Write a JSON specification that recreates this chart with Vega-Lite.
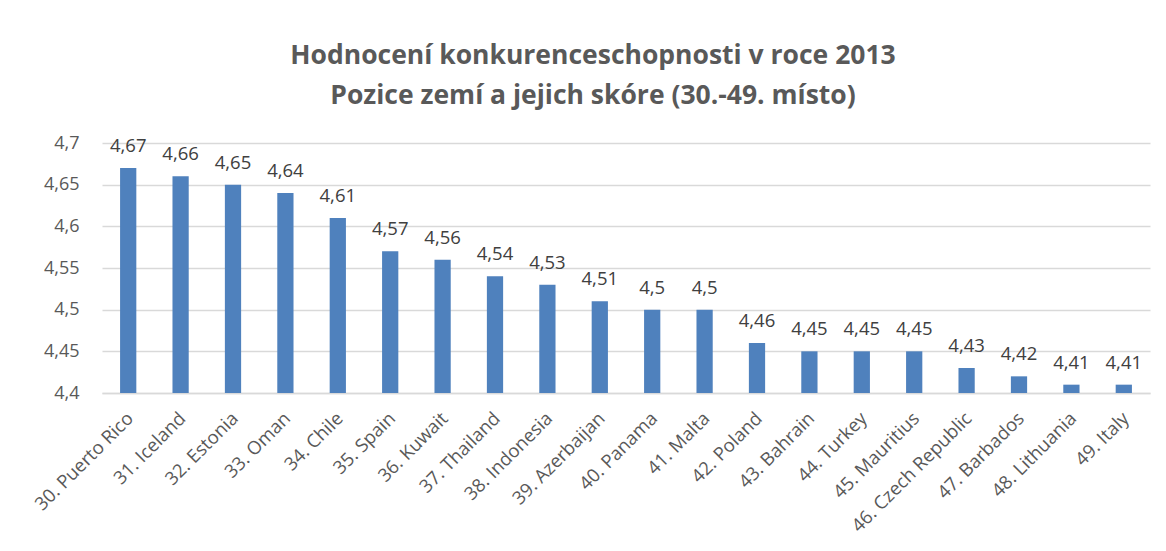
{
  "$schema": "https://vega.github.io/schema/vega-lite/v6.json",
  "width": 1048,
  "height": 250,
  "autosize": {"type": "none"},
  "padding": {"left": 102, "top": 143, "right": 16, "bottom": 158},
  "background": "white",
  "config": {
    "locale": {"number": {"decimal": ",", "thousands": " ", "grouping": [3], "currency": ["", " Kč"]}},
    "font": "Open Sans",
    "view": {"stroke": null}
  },
  "title": {
    "text": ["Hodnocení konkurenceschopnosti v roce 2013", "Pozice zemí a jejich skóre (30.-49. místo)"],
    "font": "Open Sans",
    "fontSize": 26.5,
    "fontWeight": "bold",
    "color": "#595959",
    "lineHeight": 40,
    "anchor": "middle",
    "dx": -33,
    "offset": 25
  },
  "data": {
    "values": [
      {"country": "30. Puerto Rico", "score": 4.67},
      {"country": "31. Iceland", "score": 4.66},
      {"country": "32. Estonia", "score": 4.65},
      {"country": "33. Oman", "score": 4.64},
      {"country": "34. Chile", "score": 4.61},
      {"country": "35. Spain", "score": 4.57},
      {"country": "36. Kuwait", "score": 4.56},
      {"country": "37. Thailand", "score": 4.54},
      {"country": "38. Indonesia", "score": 4.53},
      {"country": "39. Azerbaijan", "score": 4.51},
      {"country": "40. Panama", "score": 4.5},
      {"country": "41. Malta", "score": 4.5},
      {"country": "42. Poland", "score": 4.46},
      {"country": "43. Bahrain", "score": 4.45},
      {"country": "44. Turkey", "score": 4.45},
      {"country": "45. Mauritius", "score": 4.45},
      {"country": "46. Czech Republic", "score": 4.43},
      {"country": "47. Barbados", "score": 4.42},
      {"country": "48. Lithuania", "score": 4.41},
      {"country": "49. Italy", "score": 4.41}
    ]
  },
  "encoding": {
    "x": {
      "field": "country",
      "type": "nominal",
      "sort": null,
      "scale": {"paddingInner": 0.69, "paddingOuter": 0.345},
      "axis": {
        "title": null,
        "labelAngle": -45,
        "labelAlign": "right",
        "labelBaseline": "middle",
        "labelFontSize": 18.5,
        "labelColor": "#595959",
        "labelPadding": 22,
        "labelOffset": 2,
        "ticks": false,
        "domainColor": "#d9d9d9",
        "domainWidth": 1.5
      }
    },
    "y": {
      "field": "score",
      "type": "quantitative",
      "scale": {"domain": [4.4, 4.7], "zero": false, "nice": false},
      "axis": {
        "title": null,
        "values": [4.4, 4.45, 4.5, 4.55, 4.6, 4.65, 4.7],
        "format": ".2~f",
        "labelFontSize": 18,
        "labelColor": "#595959",
        "labelPadding": 23,
        "ticks": false,
        "domain": false,
        "gridColor": "#d9d9d9",
        "gridWidth": 1.5
      }
    }
  },
  "layer": [
    {
      "mark": {"type": "bar", "color": "#4F81BD"},
      "encoding": {"y2": {"datum": 4.4}}
    },
    {
      "mark": {"type": "text", "baseline": "bottom", "dy": -12, "fontSize": 18.5, "color": "#404040"},
      "encoding": {"text": {"field": "score", "type": "quantitative", "format": ".2~f"}}
    }
  ]
}
